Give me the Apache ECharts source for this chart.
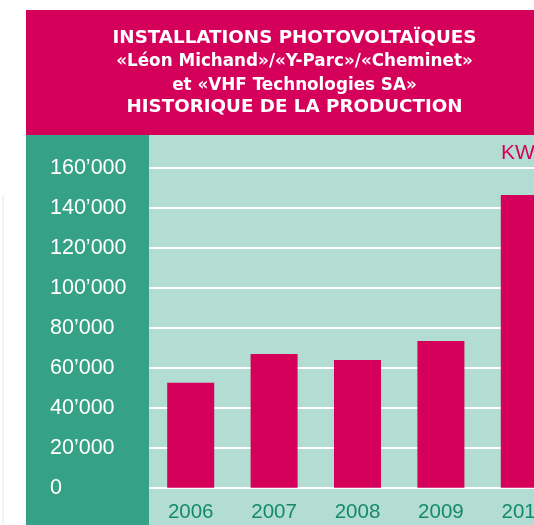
<!DOCTYPE html>
<html>
<head>
<meta charset="utf-8">
<script src="https://cdn.jsdelivr.net/npm/echarts@6/dist/echarts.min.js"></script>
<style>
	html, body { margin: 0; padding: 0; background: #ffffff; }
	#stats-echarts { width: 534px; height: 525px; }
</style>
</head>
<body>
<div id="stats-echarts"></div>
<script>
var years = ['2006', '2007', '2008', '2009', '2010'];
var production = [52500, 66900, 63900, 73400, 146300];
var titleLines = [
	'INSTALLATIONS PHOTOVOLTAÏQUES',
	'«Léon Michand»/«Y-Parc»/«Cheminet»',
	'et «VHF Technologies SA»',
	'HISTORIQUE DE LA PRODUCTION'
];
var unitLabel = 'KWh';

(function(){
	var statsEch = document.getElementById('stats-echarts');
	var myChart = echarts.init(statsEch, null, {renderer: 'canvas'});
	var magenta = '#d4005a';
	var font = '"Liberation Sans", Arial, sans-serif';
	var headFont = '"DejaVu Sans", sans-serif';

	var option = {
		animation: false,
		backgroundColor: '#ffffff',
		graphic: [
			{type: 'rect', z: -10, shape: {x: 2, y: 195, width: 2, height: 330}, style: {fill: '#eef6f4'}},
			{type: 'rect', z: -10, shape: {x: 26, y: 10, width: 508, height: 125}, style: {fill: magenta}},
			{type: 'rect', z: -10, shape: {x: 26, y: 135, width: 123, height: 390}, style: {fill: '#35a186'}},
			{type: 'rect', z: -10, shape: {x: 149, y: 135, width: 385, height: 390}, style: {fill: '#b3ddd3'}},
			{type: 'text', z: 10, x: 294.5, y: 38.5, style: {text: titleLines[0], fill: '#fff', font: 'bold 18.3px ' + headFont, textAlign: 'center', textVerticalAlign: 'middle'}},
			{type: 'text', z: 10, x: 294.5, y: 61.5, style: {text: titleLines[1], fill: '#fff', font: 'bold 16.8px ' + headFont, textAlign: 'center', textVerticalAlign: 'middle'}},
			{type: 'text', z: 10, x: 294.5, y: 86, style: {text: titleLines[2], fill: '#fff', font: 'bold 16.8px ' + headFont, textAlign: 'center', textVerticalAlign: 'middle'}},
			{type: 'text', z: 10, x: 294.5, y: 107.5, style: {text: titleLines[3], fill: '#fff', font: 'bold 18.3px ' + headFont, textAlign: 'center', textVerticalAlign: 'middle'}},
			{type: 'text', z: 10, x: 501, y: 153, style: {text: unitLabel, fill: magenta, font: '21px ' + font, textAlign: 'left', textVerticalAlign: 'middle'}}
		],
		grid: {
			left: 149,
			top: 167.7,
			width: 417,
			height: 320,
			outerBoundsMode: 'none',
			containLabel: false
		},
		xAxis: {
			type: 'category',
			data: years,
			axisLine: {show: false},
			axisTick: {show: false},
			axisLabel: {
				color: '#148a6b',
				fontSize: 20.5,
				fontFamily: font,
				margin: 14
			}
		},
		yAxis: {
			type: 'value',
			min: 0,
			max: 160000,
			interval: 20000,
			axisLine: {show: false},
			axisTick: {show: false},
			splitLine: {lineStyle: {color: '#ffffff', width: 2}},
			axisLabel: {
				color: '#ffffff',
				fontSize: 21.5,
				fontFamily: font,
				align: 'left',
				margin: 99,
				formatter: function(v) {
					if (v === 0) return '0';
					var s = String(v);
					return s.slice(0, s.length - 3) + '\u2019' + s.slice(-3);
				}
			}
		},
		series: [
			{
				type: 'bar',
				data: production,
				barWidth: 47,
				itemStyle: {color: magenta}
			}
		]
	};
	myChart.setOption(option);
})();
</script>
</body>
</html>
